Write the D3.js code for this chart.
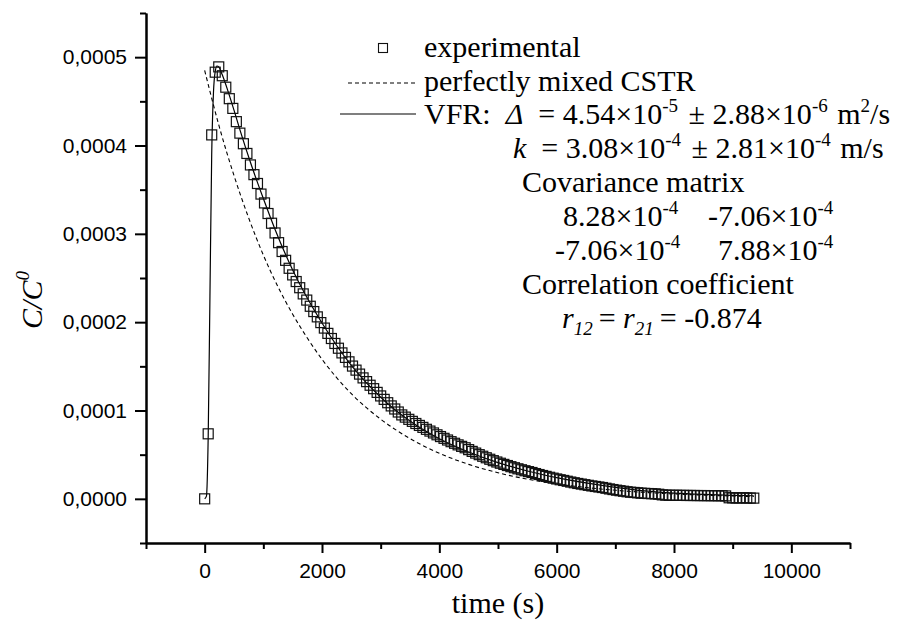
<!DOCTYPE html>
<html>
<head>
<meta charset="utf-8">
<script src="https://cdn.jsdelivr.net/npm/d3@7"></script>
<style>
  html, body { margin: 0; padding: 0; background: #fff; }
  svg { display: block; }
  text { white-space: pre; }
</style>
</head>
<body>
<svg id="chart" width="900" height="627"></svg>
<script>
// Residence-time distribution: normalised outlet concentration vs time.

// Experimental tracer samples (time in s, C/C0)
const expTime = [
  0, 60, 120, 180, 240, 300, 360, 420, 480, 540,
  600, 660, 720, 780, 840, 900, 960, 1020, 1080, 1140,
  1200, 1260, 1320, 1380, 1440, 1500, 1560, 1620, 1680, 1740,
  1800, 1860, 1920, 1980, 2040, 2100, 2160, 2220, 2280, 2340,
  2400, 2460, 2520, 2580, 2640, 2700, 2760, 2820, 2880, 2940,
  3000, 3060, 3120, 3180, 3240, 3300, 3360, 3420, 3480, 3540,
  3600, 3660, 3720, 3780, 3840, 3900, 3960, 4020, 4080, 4140,
  4200, 4260, 4320, 4380, 4440, 4500, 4560, 4620, 4680, 4740,
  4800, 4860, 4920, 4980, 5040, 5100, 5160, 5220, 5280, 5340,
  5400, 5460, 5520, 5580, 5640, 5700, 5760, 5820, 5880, 5940,
  6000, 6060, 6120, 6180, 6240, 6300, 6360, 6420, 6480, 6540,
  6600, 6660, 6720, 6780, 6840, 6900, 6960, 7020, 7080, 7140,
  7200, 7260, 7320, 7380, 7440, 7500, 7560, 7620, 7680, 7740,
  7800, 7860, 7920, 7980, 8040, 8100, 8160, 8220, 8280, 8340,
  8400, 8460, 8520, 8580, 8640, 8700, 8760, 8820, 8880, 8940,
  9000, 9060, 9120, 9180, 9240, 9300, 9360
];
const expConc = [
  0.0000000, 0.0000736, 0.000412, 0.000483, 0.000489, 0.000479, 0.000466, 0.000453, 0.000442, 0.000427,
  0.000414, 0.000402, 0.000391, 0.000378, 0.000367, 0.000357, 0.000345, 0.000335, 0.000323, 0.000312,
  0.000301, 0.000290, 0.000280, 0.000270, 0.000261, 0.0002535, 0.000246, 0.000239, 0.000232, 0.000225,
  0.000218, 0.000212, 0.000206, 0.0001995, 0.0001933, 0.0001873, 0.0001815, 0.0001759, 0.0001705, 0.0001652,
  0.0001601, 0.0001551, 0.0001503, 0.0001457, 0.0001412, 0.0001369, 0.0001327, 0.0001286, 0.0001247, 0.0001205,
  0.0001165, 0.0001126, 0.0001088, 0.0001052, 0.0001017, 0.0000983, 0.0000950, 0.0000925, 0.0000900, 0.0000877,
  0.0000853, 0.0000831, 0.0000809, 0.0000787, 0.0000767, 0.0000746, 0.0000725, 0.0000705, 0.0000685, 0.0000666,
  0.0000647, 0.0000629, 0.0000611, 0.0000594, 0.0000578, 0.0000557, 0.0000537, 0.0000518, 0.0000500, 0.0000482,
  0.0000465, 0.0000448, 0.0000432, 0.0000417, 0.0000403, 0.0000390, 0.0000377, 0.0000364, 0.0000352, 0.0000340,
  0.0000329, 0.0000318, 0.0000308, 0.0000298, 0.0000286, 0.0000275, 0.0000264, 0.0000254, 0.0000244, 0.0000234,
  0.0000225, 0.0000216, 0.0000208, 0.0000199, 0.0000190, 0.0000182, 0.0000174, 0.0000167, 0.0000160, 0.0000153,
  0.0000146, 0.0000140, 0.0000134, 0.0000128, 0.0000120, 0.0000112, 0.0000105, 0.0000098, 0.0000092, 0.0000086,
  0.0000080, 0.0000075, 0.0000072, 0.0000068, 0.0000064, 0.0000062, 0.0000060, 0.0000058, 0.0000056, 0.0000052,
  0.0000045, 0.0000042, 0.0000040, 0.0000040, 0.0000040, 0.0000039, 0.0000039, 0.0000038, 0.0000038, 0.0000038,
  0.0000037, 0.0000037, 0.0000037, 0.0000036, 0.0000036, 0.0000036, 0.0000035, 0.0000035, 0.0000033, 0.0000012,
  0.0000011, 0.0000010, 0.0000010, 0.0000012, 0.0000009, 0.0000009, 0.0000008
];

// Ideal CSTR response
const cstrTime = [0, 250, 500, 750, 1000, 1250, 1500, 1750, 2000, 2500, 3000, 3500, 4000,
                  4500, 5000, 5500, 6000, 6500, 7000, 7500, 8000, 8500, 9000, 9360];
const cstrConc = [0.000485, 0.000421, 0.000366, 0.000318, 0.000276, 0.000240, 0.000209, 0.000182,
                  0.000158, 0.000119, 0.0000902, 0.0000682, 0.0000516, 0.0000390, 0.0000295,
                  0.0000223, 0.0000169, 0.0000128, 0.0000097, 0.0000073, 0.0000055, 0.0000042,
                  0.0000032, 0.0000026];

// Fitted VFR model
const vfrTime = [0, 30, 60, 90, 120, 150, 180, 210, 240, 300, 400, 500, 600, 800, 1000, 1200,
                 1500, 2000, 2500, 3000, 3500, 4000, 4500, 5000, 5500, 6000, 6500, 7000,
                 7500, 8000, 8500, 9000, 9360];
const vfrConc = [0, 0.000003, 0.000070, 0.000230, 0.000390, 0.000460, 0.000484, 0.000490, 0.000489,
                 0.000480, 0.000461, 0.000440, 0.000418, 0.000377, 0.000340, 0.000305, 0.000259,
                 0.000199, 0.000151, 0.000115, 0.000088, 0.000068, 0.000053, 0.000041, 0.0000315,
                 0.000024, 0.000018, 0.000013, 0.000009, 0.0000065, 0.000005, 0.000004, 0.0000035];

// Axis ticks
const xMajorTicks = [0, 2000, 4000, 6000, 8000, 10000];
const xMinorTicks = [-1000, 1000, 3000, 5000, 7000, 9000, 11000];
const yMajorTicks = [0, 0.0001, 0.0002, 0.0003, 0.0004, 0.0005];
const yMinorTicks = [-0.00005, 0.00005, 0.00015, 0.00025, 0.00035, 0.00045, 0.00055];

const svg = d3.select("#chart");
const x = d3.scaleLinear().domain([-1000, 11000]).range([146, 850]);
const y = d3.scaleLinear().domain([-0.00005, 0.00055]).range([543, 13]);

const commaLocale = d3.formatLocale({ decimal: ",", thousands: "", grouping: [3], currency: ["", ""] });
const yFmt = commaLocale.format(".4f");

const tickFont = "'Liberation Sans', Arial, sans-serif";
const serif = "'Liberation Serif', 'Times New Roman', serif";

// ---- axes ----
function styleAxis(g) {
  g.select(".domain").attr("stroke", "#000").attr("stroke-width", 2);
  g.selectAll(".tick line").attr("stroke", "#000").attr("stroke-width", 2);
  g.selectAll(".tick text").attr("fill", "#000").attr("font-family", tickFont).attr("font-size", 21);
}

const xAxisY = y(-0.00005);
svg.append("g").attr("transform", `translate(0,${xAxisY})`)
  .call(d3.axisBottom(x).tickValues(xMinorTicks).tickSize(6).tickSizeOuter(0).tickFormat(""))
  .call(styleAxis);
svg.append("g").attr("transform", `translate(0,${xAxisY})`)
  .call(d3.axisBottom(x).tickValues(xMajorTicks).tickSize(10).tickSizeOuter(0).tickPadding(10).tickFormat(d3.format("d")))
  .call(styleAxis);

const yAxisX = x(-1000);
svg.append("g").attr("transform", `translate(${yAxisX},0)`)
  .call(d3.axisLeft(y).tickValues(yMinorTicks).tickSize(6).tickSizeOuter(0).tickFormat(""))
  .call(styleAxis);
svg.append("g").attr("transform", `translate(${yAxisX},0)`)
  .call(d3.axisLeft(y).tickValues(yMajorTicks).tickSize(11).tickSizeOuter(0).tickPadding(8).tickFormat(yFmt))
  .call(styleAxis);

// axis titles
svg.append("text")
  .attr("x", (x(-1000) + x(11000)) / 2).attr("y", 613)
  .attr("text-anchor", "middle")
  .attr("font-family", serif).attr("font-size", 30)
  .text("time (s)");

const yl = svg.append("text")
  .attr("transform", "translate(42,300) rotate(-90)")
  .attr("text-anchor", "middle")
  .attr("font-family", serif).attr("font-size", 30).attr("font-style", "italic");
yl.append("tspan").text("C/C");
yl.append("tspan").attr("font-size", 19).attr("dy", -13).text("0");

// ---- series ----
const cstrData = cstrTime.map((t, i) => [t, cstrConc[i]]);
const vfrData = vfrTime.map((t, i) => [t, vfrConc[i]]);
const expData = expTime.map((t, i) => [t, expConc[i]]);

const line = d3.line().x(d => x(d[0])).y(d => y(d[1])).curve(d3.curveMonotoneX);

svg.append("path").datum(cstrData)
  .attr("d", line).attr("fill", "none")
  .attr("stroke", "#000").attr("stroke-width", 1.1).attr("stroke-dasharray", "4,3");

svg.append("path").datum(vfrData)
  .attr("d", line).attr("fill", "none")
  .attr("stroke", "#000").attr("stroke-width", 1.2);

const sq = 10;
svg.append("g").selectAll("rect").data(expData).join("rect")
  .attr("x", d => x(d[0]) - sq / 2).attr("y", d => y(d[1]) - sq / 2)
  .attr("width", sq).attr("height", sq)
  .attr("fill", "none").attr("stroke", "#111").attr("stroke-width", 1.2);

// ---- legend and fit results ----
const fs = 30, sup = 19, supShift = 12;
const leg = svg.append("g").attr("font-family", serif).attr("font-size", fs).attr("fill", "#000");

// one text line built from runs; runs can be italic, raised (sup) or lowered (sub)
function row(xPos, yPos, parts) {
  const t = leg.append("text").attr("x", xPos).attr("y", yPos);
  let shift = 0;
  parts.forEach(p => {
    const s = t.append("tspan").text(p.t);
    if (p.i) s.attr("font-style", "italic");
    const target = p.sup ? -supShift : p.sub ? 7 : 0;
    if (target !== shift) { s.attr("dy", target - shift); shift = target; }
    if (p.sup || p.sub) s.attr("font-size", sup);
    if (p.dx) s.attr("dx", p.dx);
  });
  return t;
}

// row baselines
const rowY = [57, 91, 124, 158, 192, 226, 260, 294, 328];

leg.append("rect").attr("x", 383 - 4.5).attr("y", rowY[0] - 13.5).attr("width", 9).attr("height", 9)
  .attr("fill", "none").attr("stroke", "#111").attr("stroke-width", 1.1);
row(424, rowY[0], [{ t: "experimental" }]);

leg.append("line").attr("x1", 348).attr("x2", 416).attr("y1", rowY[1] - 8).attr("y2", rowY[1] - 8)
  .attr("stroke", "#000").attr("stroke-width", 1.1).attr("stroke-dasharray", "4,3");
row(424, rowY[1], [{ t: "perfectly mixed CSTR" }]);

leg.append("line").attr("x1", 340).attr("x2", 416).attr("y1", rowY[2] - 10).attr("y2", rowY[2] - 10)
  .attr("stroke", "#000").attr("stroke-width", 1.2);
row(424, rowY[2], [
  { t: "VFR:  " }, { t: "Δ", i: true }, { t: "  = 4.54×10" }, { t: "-5", sup: true },
  { t: " ± 2.88×10", dx: 3 }, { t: "-6", sup: true }, { t: " m", dx: 2 }, { t: "2", sup: true }, { t: "/s" }
]);
row(513, rowY[3], [
  { t: "k", i: true }, { t: "  = 3.08×10" }, { t: "-4", sup: true },
  { t: " ± 2.81×10", dx: 3 }, { t: "-4", sup: true }, { t: " m/s", dx: 2 }
]);
row(522, rowY[4], [{ t: "Covariance matrix" }]);
row(563, rowY[5], [{ t: "8.28×10" }, { t: "-4", sup: true }]);
row(708, rowY[5], [{ t: "-7.06×10" }, { t: "-4", sup: true }]);
row(555, rowY[6], [{ t: "-7.06×10" }, { t: "-4", sup: true }]);
row(718, rowY[6], [{ t: "7.88×10" }, { t: "-4", sup: true }]);
row(522, rowY[7], [{ t: "Correlation coefficient" }]);
row(562, rowY[8], [
  { t: "r", i: true }, { t: "12", i: true, sub: true }, { t: "= ", dx: 6 },
  { t: "r", i: true }, { t: "21", i: true, sub: true }, { t: "= -0.874", dx: 6 }
]);
</script>
</body>
</html>
